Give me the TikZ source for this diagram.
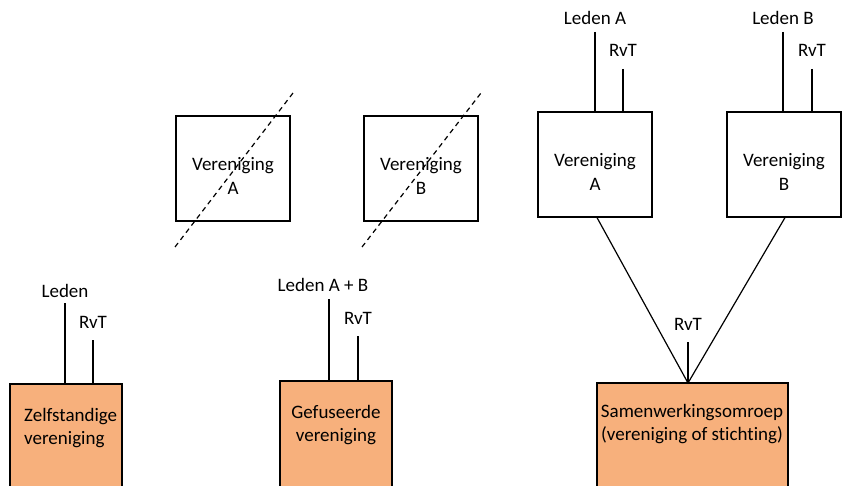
\documentclass[tikz,border=0pt]{standalone}
\usepackage{fontspec}
\setmainfont[Ligatures=NoCommon]{Carlito}
\definecolor{orgfill}{HTML}{F7B07C}
\begin{document}
\begin{tikzpicture}[x=1pt,y=-1pt,
  every node/.style={font=\fontsize{19}{23.5}\selectfont, inner sep=0pt},
  box/.style={draw, line width=1.2pt, minimum width=114pt, minimum height=105pt},
  obox/.style={draw, line width=1.2pt, fill=orgfill},
  ln/.style={line width=1.2pt},
  cut/.style={line width=1.2pt, dash pattern=on 5pt off 4pt},
  lbl/.style={align=center}]
\useasboundingbox (0,0) rectangle (843,486);
\clip (0,0) rectangle (843,486);
\fill[white] (0,0) rectangle (843,486);

% bottom-left: Zelfstandige vereniging
\node[obox, minimum width=112pt, minimum height=130pt] (zelf) at (66,449) {};
\node[align=left, anchor=north west] (zelft) at (24,408) {Zelfstandige\\vereniging};
\node (zleden) at (65,291) {Leden};
\node (zrvt) at (93,322) {RvT};
\coordinate (zl) at (65,303);
\coordinate (zr) at (93,340);
\draw[ln] (zl) -- (zl |- zelf.north);
\draw[ln] (zr) -- (zr |- zelf.north);

% dashed boxes
\node[box] (va) at (233,168.5) {};
\node[lbl] (vat) at (233,176) {Vereniging\\A};
\coordinate (ca1) at (175,247);
\coordinate (ca2) at (293,93);
\draw[cut] (ca1) -- (ca2);

\node[box] (vb) at (421,168.5) {};
\node[lbl] (vbt) at (421,176) {Vereniging\\B};
\coordinate (cb1) at (362,247);
\coordinate (cb2) at (481,93);
\draw[cut] (cb1) -- (cb2);

% Gefuseerde vereniging
\node[obox, minimum width=112pt, minimum height=130pt] (gef) at (336,446) {};
\node[lbl, anchor=north] (geft) at (336,405) {Gefuseerde\\vereniging};
\node (gleden) at (323,285) {Leden A + B};
\node (grvt) at (358,318) {RvT};
\coordinate (gl) at (329,299);
\coordinate (gr) at (358,336);
\draw[ln] (gl) -- (gl |- gef.north);
\draw[ln] (gr) -- (gr |- gef.north);

% right: Vereniging A and B
\node[box] (ra) at (595,164.5) {};
\node[lbl] (rat) at (595,172) {Vereniging\\A};
\node (raleden) at (595,18) {Leden A};
\node (rarvt) at (623,50) {RvT};
\coordinate (ral) at (595,32);
\coordinate (rar) at (623,69);
\draw[ln] (ral) -- (ral |- ra.north);
\draw[ln] (rar) -- (rar |- ra.north);

\node[box] (rb) at (784,164.5) {};
\node[lbl] (rbt) at (784,172) {Vereniging\\B};
\node (rbleden) at (783,18) {Leden B};
\node (rbrvt) at (812,50) {RvT};
\coordinate (rbl) at (783,32);
\coordinate (rbr) at (812,69);
\draw[ln] (rbl) -- (rbl |- rb.north);
\draw[ln] (rbr) -- (rbr |- rb.north);

% Samenwerkingsomroep
\node[obox, minimum width=191pt, minimum height=130pt] (sam) at (692.5,448) {};
\node[lbl, anchor=north] (samt) at (692,404) {Samenwerkingsomroep\\(vereniging of stichting)};
\coordinate (apex) at (688,383);
\node (srvt) at (688,324) {RvT};
\coordinate (sr) at (688,342);
\draw[ln] (sr) -- (apex);
\draw[ln, line join=miter] ([xshift=2pt]ra.south) -- (apex) -- ([xshift=1pt]rb.south);
\end{tikzpicture}
\end{document}
